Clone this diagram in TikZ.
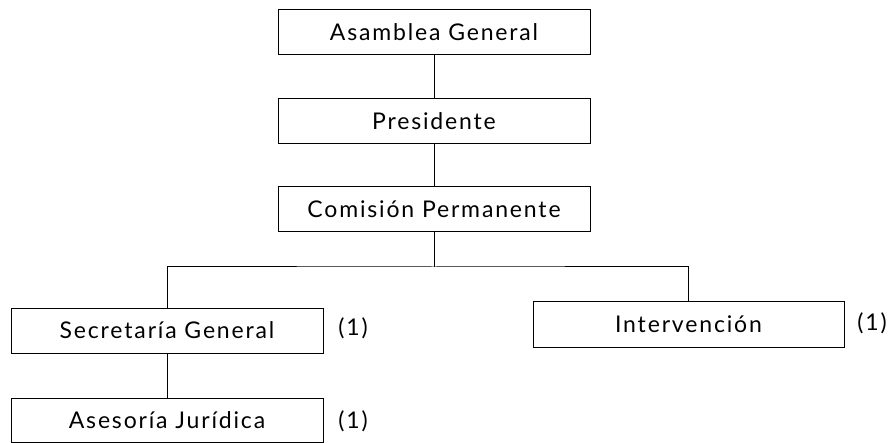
\documentclass[tikz,border=0pt]{standalone}
\usepackage{fontspec}
\setmainfont{Lato}[LetterSpace=8]
\usetikzlibrary{positioning}

\begin{document}
\begin{tikzpicture}[x=1pt,y=-1pt,
    every node/.style={font=\fontsize{23}{27}\selectfont},
    orgbox/.style={draw,line width=1pt,minimum width=312pt,minimum height=45pt,inner sep=0pt},
    link/.style={line width=1pt}]
    \useasboundingbox (0,0) rectangle (893,443);
    % Top of the chart
    \node[orgbox] (asamblea) at (434,32) {Asamblea General};
    \node[orgbox] (presidente) at (434,121) {Presidente};
    \node[orgbox] (comision) at (434,209.5) {Comisión Permanente};
    % Second level
    \node[orgbox] (secretaria) at (167,330.5) {Secretaría General};
    \node[orgbox,minimum width=311pt,minimum height=46pt] (intervencion) at (688.5,324) {Intervención};
    \node[orgbox,minimum height=44pt] (asesoria) at (167,420) {Asesoría Jurídica};
    % Notes
    \node (notasec) at (353,328) {(1)};
    \node (notaint) at (872,323) {(1)};
    \node (notaase) at (353,421) {(1)};
    % Connectors
    \coordinate (bar) at (434,267);
    \draw[link] (asamblea) -- (presidente);
    \draw[link] (presidente) -- (comision);
    \draw[link] (comision) -- (bar);
    \draw[link] (secretaria.north) |- (bar) -| (intervencion.north);
    \draw[link] (secretaria) -- (asesoria);
  \end{tikzpicture}
\end{document}
